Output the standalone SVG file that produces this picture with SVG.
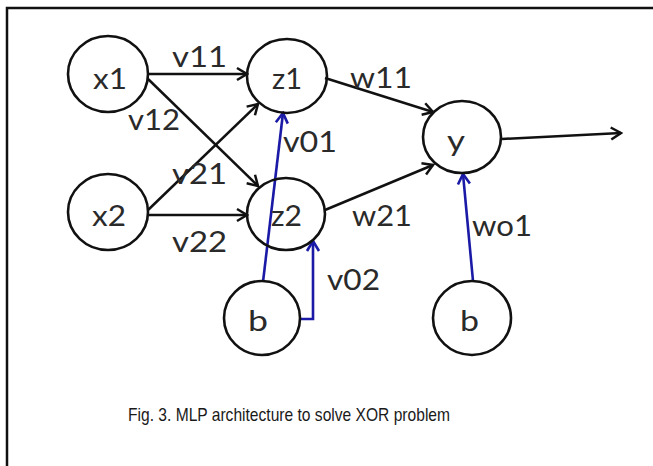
<svg xmlns="http://www.w3.org/2000/svg" width="653" height="466" viewBox="0 0 653 466">
<style>
.node{fill:#fff;stroke:#111;stroke-width:2.6}
.lbl{font-family:Lato,"Open Sans",sans-serif;font-size:28px;fill:#2a2a2a}
.cap{font-family:"Liberation Sans",Arial,sans-serif;font-size:19px;fill:#1a1a1a}
.blk{fill:none;stroke:#111;stroke-width:2.5}
.blu{fill:none;stroke:#1a1aa6;stroke-width:2.6}
</style>
<defs>
<marker id="ab" markerUnits="userSpaceOnUse" markerWidth="14" markerHeight="16" viewBox="0 0 14 16" refX="12" refY="8" orient="auto">
<path d="M2,2 L12,8 L2,14" fill="none" stroke="#111" stroke-width="2.5"/>
</marker>
<marker id="au" markerUnits="userSpaceOnUse" markerWidth="14" markerHeight="16" viewBox="0 0 14 16" refX="12" refY="8" orient="auto">
<path d="M2,2 L12,8 L2,14" fill="none" stroke="#1a1aa6" stroke-width="2.6"/>
</marker>
</defs>
<rect width="653" height="466" fill="#fff"/>
<path d="M7,466 V8 H653" fill="none" stroke="#111" stroke-width="2.5"/>
<g id="connectors">
<line class="blk" x1="148" y1="74" x2="247" y2="74" marker-end="url(#ab)"/>
<line class="blk" x1="146" y1="77" x2="258" y2="186" marker-end="url(#ab)"/>
<line class="blk" x1="147" y1="211" x2="258" y2="104" marker-end="url(#ab)"/>
<line class="blk" x1="148" y1="215" x2="247" y2="215" marker-end="url(#ab)"/>
<line class="blk" x1="325" y1="78" x2="433" y2="112" marker-end="url(#ab)"/>
<line class="blk" x1="325" y1="210" x2="433" y2="165" marker-end="url(#ab)"/>
<line class="blk" x1="502" y1="139" x2="621" y2="133" marker-end="url(#ab)"/>
<line class="blu" x1="263" y1="282" x2="283" y2="113" marker-end="url(#au)"/>
<polyline class="blu" points="300,319 313,319 313,241" marker-end="url(#au)"/>
<line class="blu" x1="473" y1="281" x2="463" y2="174" marker-end="url(#au)"/>
<text class="lbl" x="172" y="67" textLength="55" lengthAdjust="spacingAndGlyphs">v11</text>
<text class="lbl" x="128" y="130" textLength="52" lengthAdjust="spacingAndGlyphs">v12</text>
<text class="lbl" x="172" y="184" textLength="55" lengthAdjust="spacingAndGlyphs">v21</text>
<text class="lbl" x="172" y="252" textLength="55" lengthAdjust="spacingAndGlyphs">v22</text>
<text class="lbl" x="283" y="152" textLength="54" lengthAdjust="spacingAndGlyphs">v01</text>
<text class="lbl" x="327" y="290" textLength="53" lengthAdjust="spacingAndGlyphs">v02</text>
<text class="lbl" x="350" y="88" textLength="62" lengthAdjust="spacingAndGlyphs">w11</text>
<text class="lbl" x="352" y="226" textLength="60" lengthAdjust="spacingAndGlyphs">w21</text>
<text class="lbl" x="472" y="236" textLength="60" lengthAdjust="spacingAndGlyphs">wo1</text>
</g>
<g id="x1"><ellipse class="node" cx="108" cy="74" rx="40" ry="38"/><text class="lbl" x="93" y="89" textLength="34" lengthAdjust="spacingAndGlyphs">x1</text></g>
<g id="x2"><ellipse class="node" cx="108" cy="212" rx="40" ry="38"/><text class="lbl" x="92" y="226" textLength="34" lengthAdjust="spacingAndGlyphs">x2</text></g>
<g id="z1"><ellipse class="node" cx="287" cy="76" rx="40" ry="37" fill-opacity="0"/><text class="lbl" x="272" y="89" textLength="30" lengthAdjust="spacingAndGlyphs">z1</text></g>
<g id="z2"><ellipse class="node" cx="286" cy="214" rx="39" ry="36" fill-opacity="0"/><text class="lbl" x="271" y="226" textLength="31" lengthAdjust="spacingAndGlyphs">z2</text></g>
<g id="y"><ellipse class="node" cx="462" cy="137" rx="39" ry="36"/><text class="lbl" x="447" y="151" textLength="18" lengthAdjust="spacingAndGlyphs">y</text></g>
<g id="b1"><ellipse class="node" cx="262" cy="318" rx="38" ry="37"/><text class="lbl" x="248" y="331" textLength="20" lengthAdjust="spacingAndGlyphs">b</text></g>
<g id="b2"><ellipse class="node" cx="472" cy="318" rx="39" ry="37"/><text class="lbl" x="460" y="331" textLength="19" lengthAdjust="spacingAndGlyphs">b</text></g>
<text class="cap" x="128" y="421" textLength="322" lengthAdjust="spacingAndGlyphs">Fig. 3. MLP architecture to solve XOR problem</text>
</svg>
